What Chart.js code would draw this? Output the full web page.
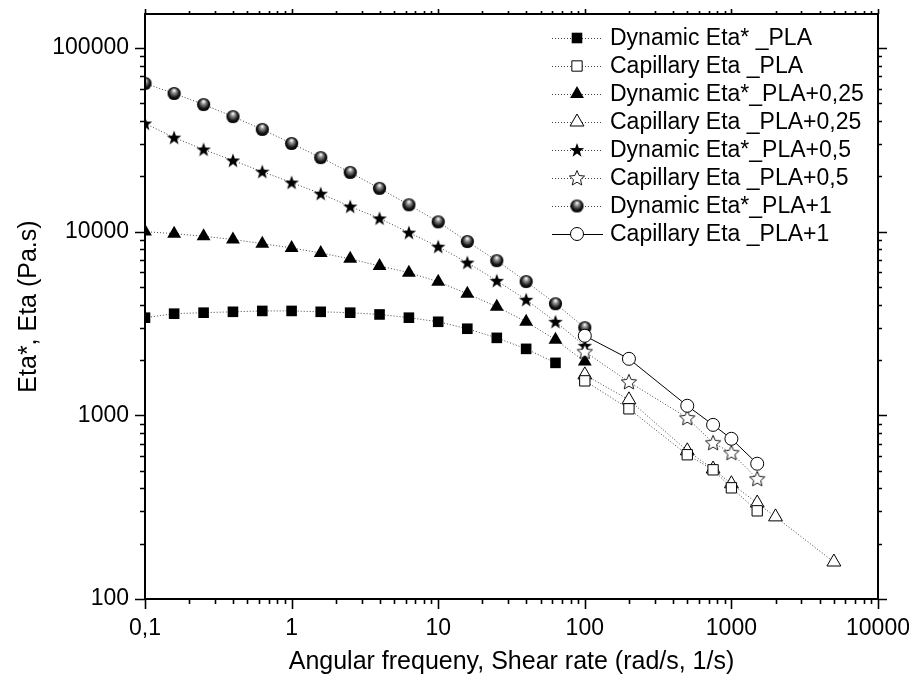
<!DOCTYPE html>
<html>
<head>
<meta charset="utf-8">
<script src="https://cdn.jsdelivr.net/npm/chart.js@4.4.0/dist/chart.umd.min.js"></script>
<style>
  html, body { margin: 0; padding: 0; background: #fff; }
  #wrap { width: 909px; height: 683px; }
</style>
</head>
<body>
<div id="wrap"><canvas id="eta-chart" width="909" height="683"></canvas></div>
<script>
// angular frequency (rad/s) for the dynamic (oscillatory) runs
const freq = [0.1, 0.158, 0.251, 0.398, 0.631, 1, 1.58, 2.51, 3.98, 6.31, 10, 15.8, 25.1, 39.8, 63.1, 100];
const dynPLA     = [3400, 3575, 3620, 3660, 3700, 3700, 3660, 3620, 3540, 3400, 3230, 2960, 2640, 2300, 1930];
const dynPLA025  = [10000, 9750, 9440, 9060, 8600, 8150, 7650, 7110, 6500, 5980, 5340, 4590, 3900, 3230, 2580, 1960];
const dynPLA05   = [38800, 32500, 28000, 24400, 21200, 18500, 16100, 13700, 11800, 9880, 8280, 6780, 5400, 4260, 3230, 2390];
const dynPLA1    = [64100, 56500, 49200, 42300, 36000, 30200, 25300, 21000, 17200, 14000, 11300, 8830, 6950, 5350, 4050, 3000];

// shear rate (1/s) for the capillary runs
const shear    = [100, 200, 500, 750, 1000, 1500];
const shear025 = [100, 200, 500, 750, 1000, 1500, 2000, 5000];
const capPLA    = [1540, 1085, 610, 505, 403, 302];
const capPLA025 = [1660, 1214, 641, 510, 424, 333, 280, 159];
const capPLA05  = [2220, 1520, 968, 708, 625, 451];
const capPLA1   = [2710, 2030, 1127, 887, 745, 545];

const labels = [
  'Dynamic Eta* _PLA',
  'Capillary Eta _PLA',
  'Dynamic Eta*_PLA+0,25',
  'Capillary Eta _PLA+0,25',
  'Dynamic Eta*_PLA+0,5',
  'Capillary Eta _PLA+0,5',
  'Dynamic Eta*_PLA+1',
  'Capillary Eta _PLA+1'
];

const FONT = "Arial, 'Liberation Sans', sans-serif";

function makeStar(filled) {
  const c = document.createElement('canvas');
  c.width = 18; c.height = 18;
  const g = c.getContext('2d');
  const outer = filled ? 7.6 : 8;
  const inner = filled ? 3.1 : 3.7;
  g.beginPath();
  for (let i = 0; i < 10; i++) {
    const r = i % 2 === 0 ? outer : inner;
    const a = -Math.PI / 2 + i * Math.PI / 5;
    const px = 9 + r * Math.cos(a), py = 9.5 + r * Math.sin(a);
    if (i === 0) g.moveTo(px, py); else g.lineTo(px, py);
  }
  g.closePath();
  if (filled) {
    g.fillStyle = '#000';
    g.fill();
  } else {
    g.fillStyle = '#fff';
    g.fill();
    g.lineWidth = 0.9;
    g.strokeStyle = '#000';
    g.stroke();
  }
  return c;
}

function makeSphere() {
  const c = document.createElement('canvas');
  c.width = 15; c.height = 15;
  const g = c.getContext('2d');
  const grad = g.createRadialGradient(7.5, 4.2, 0.3, 7.5, 7.5, 7);
  grad.addColorStop(0, '#ffffff');
  grad.addColorStop(0.3, '#8a8a8a');
  grad.addColorStop(0.7, '#151515');
  grad.addColorStop(1, '#000000');
  g.beginPath();
  g.arc(7.5, 7.5, 6.6, 0, Math.PI * 2);
  g.fillStyle = grad;
  g.fill();
  return c;
}

const starFilled = makeStar(true);
const starOpen = makeStar(false);
const sphere = makeSphere();

const dotted = { borderColor: '#444', borderWidth: 1, borderDash: [1, 2] };
const solid = { borderColor: '#000', borderWidth: 1, borderDash: [] };

function series(label, xs, ys, line, marker, order) {
  return Object.assign({
    label: label,
    data: ys.map((y, i) => ({ x: xs[i], y: y })),
    showLine: true,
    order: order
  }, line, marker);
}

const mFilledSquare = { pointStyle: 'rect', pointRadius: 7.5, pointBackgroundColor: '#000', pointBorderColor: '#000', pointBorderWidth: 0 };
const mOpenSquare   = { pointStyle: 'rect', pointRadius: 7.3, pointBackgroundColor: '#fff', pointBorderColor: '#000', pointBorderWidth: 1 };
const mFilledTri    = { pointStyle: 'triangle', pointRadius: 8, pointBackgroundColor: '#000', pointBorderColor: '#000', pointBorderWidth: 0 };
const mOpenTri      = { pointStyle: 'triangle', pointRadius: 8, pointBackgroundColor: '#fff', pointBorderColor: '#000', pointBorderWidth: 1 };
const mFilledStar   = { pointStyle: starFilled, pointRadius: 7 };
const mOpenStar     = { pointStyle: starOpen, pointRadius: 7 };
const mSphere       = { pointStyle: sphere, pointRadius: 7 };
const mOpenCircle   = { pointStyle: 'circle', pointRadius: 6.5, pointBackgroundColor: '#fff', pointBorderColor: '#000', pointBorderWidth: 1 };

const datasets = [
  series(labels[0], freq, dynPLA, dotted, mFilledSquare, 2),
  series(labels[1], shear, capPLA, dotted, mOpenSquare, 1),
  series(labels[2], freq, dynPLA025, dotted, mFilledTri, 2),
  series(labels[3], shear025, capPLA025, dotted, mOpenTri, 1),
  series(labels[4], freq, dynPLA05, dotted, mFilledStar, 2),
  series(labels[5], shear, capPLA05, dotted, mOpenStar, 1),
  series(labels[6], freq, dynPLA1, dotted, mSphere, 2),
  series(labels[7], shear, capPLA1, solid, mOpenCircle, 0)
];

function isDecade(v) {
  const l = Math.log10(v);
  return Math.abs(l - Math.round(l)) < 1e-6;
}

// frame and log tick marks on all four sides
const framePlugin = {
  id: 'frame',
  afterDraw(chart) {
    const ctx = chart.ctx;
    const a = chart.chartArea;
    const xs = chart.scales.x, ys = chart.scales.y;
    ctx.save();
    ctx.strokeStyle = '#000';
    ctx.setLineDash([]);
    ctx.lineWidth = 2;
    ctx.strokeRect(a.left, a.top, a.right - a.left, a.bottom - a.top);
    ctx.lineWidth = 1.6;
    ctx.beginPath();
    for (let e = -1; e <= 4; e++) {
      for (let s = 1; s <= 9; s++) {
        const v = s * Math.pow(10, e);
        if (v > 10000.0001) continue;
        const px = Math.round(xs.getPixelForValue(v)) + 0.5;
        const major = s === 1;
        ctx.moveTo(px, a.bottom); ctx.lineTo(px, a.bottom + (major ? 10 : 5));
        ctx.moveTo(px, a.top); ctx.lineTo(px, a.top - (major ? 5 : 3));
      }
    }
    for (let e = 2; e <= 5; e++) {
      for (let s = 1; s <= 9; s++) {
        const v = s * Math.pow(10, e);
        if (v > ys.max) continue;
        const py = Math.round(ys.getPixelForValue(v)) + 0.5;
        const major = s === 1;
        ctx.moveTo(a.left, py); ctx.lineTo(a.left - (major ? 10 : 5), py);
        ctx.moveTo(a.right, py); ctx.lineTo(a.right + (major ? 9 : 4), py);
      }
    }
    ctx.stroke();
    ctx.restore();
  }
};

// legend in the upper right: short line, marker, text
const legendPlugin = {
  id: 'innerLegend',
  afterDraw(chart) {
    const ctx = chart.ctx;
    ctx.save();
    ctx.font = '23px ' + FONT;
    ctx.textBaseline = 'middle';
    ctx.textAlign = 'left';
    chart.data.datasets.forEach((ds, i) => {
      const y = 38 + i * 28;
      ctx.strokeStyle = ds.borderColor;
      ctx.lineWidth = ds.borderWidth;
      ctx.setLineDash(ds.borderDash);
      ctx.beginPath();
      ctx.moveTo(552, y + 0.5);
      ctx.lineTo(603, y + 0.5);
      ctx.stroke();
      ctx.setLineDash([]);
      ctx.fillStyle = ds.pointBackgroundColor || '#000';
      ctx.strokeStyle = ds.pointBorderColor || '#000';
      ctx.lineWidth = ds.pointBorderWidth || 0;
      Chart.helpers.drawPoint(ctx, {
        pointStyle: ds.pointStyle,
        radius: ds.pointRadius,
        rotation: 0,
        borderWidth: ds.pointBorderWidth || 0
      }, 577, y);
      ctx.fillStyle = '#000';
      ctx.fillText(ds.label, 610, y + 1);
    });
    ctx.restore();
  }
};

new Chart(document.getElementById('eta-chart'), {
  type: 'scatter',
  data: { datasets: datasets },
  options: {
    responsive: false,
    animation: false,
    devicePixelRatio: 1,
    events: [],
    layout: { padding: { top: 14, right: 31, left: 0, bottom: 0 } },
    plugins: {
      legend: { display: false },
      tooltip: { enabled: false }
    },
    scales: {
      x: {
        type: 'logarithmic',
        min: 0.1,
        max: 10000,
        afterFit(scale) {
          scale.height = 84;
          scale.paddingLeft = 0;
          scale.paddingRight = 0;
        },
        grid: { color: 'rgba(0,0,0,0)', drawOnChartArea: false, drawTicks: true, tickLength: 10 },
        border: { display: false },
        ticks: {
          autoSkip: false,
          maxRotation: 0,
          padding: 6,
          color: '#000',
          font: { family: FONT, size: 23 },
          callback(value) {
            if (!isDecade(value)) return '';
            return value < 1 ? value.toFixed(1).replace('.', ',') : String(Math.round(value));
          }
        },
        title: {
          display: true,
          text: 'Angular frequeny, Shear rate (rad/s, 1/s)',
          color: '#000',
          font: { family: FONT, size: 25 },
          padding: { top: 0, bottom: 6 }
        }
      },
      y: {
        type: 'logarithmic',
        min: 100,
        max: 153000,
        afterFit(scale) {
          scale.width = 145;
          scale.paddingTop = 0;
          scale.paddingBottom = 0;
        },
        grid: { color: 'rgba(0,0,0,0)', drawOnChartArea: false, drawTicks: true, tickLength: 10 },
        border: { display: false },
        ticks: {
          autoSkip: false,
          padding: 6,
          color: '#000',
          font: { family: FONT, size: 23 },
          callback(value) {
            return isDecade(value) ? String(Math.round(value)) : '';
          }
        },
        title: {
          display: true,
          text: 'Eta*, Eta (Pa.s)',
          color: '#000',
          font: { family: FONT, size: 25 },
          padding: { top: 14, bottom: 0 }
        }
      }
    }
  },
  plugins: [framePlugin, legendPlugin]
});
</script>
</body>
</html>
